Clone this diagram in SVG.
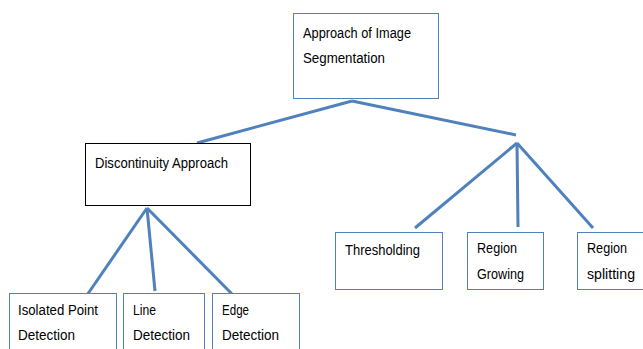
<svg xmlns="http://www.w3.org/2000/svg" width="643" height="349" viewBox="0 0 643 349">
<style>
.box{fill:#fff;stroke:#4f81bd;stroke-width:1}
.boxk{fill:#fff;stroke:#000;stroke-width:1}
.t{font-family:"Liberation Sans",Arial,sans-serif;font-size:14px;fill:#000}
.c{stroke:#4f81bd;stroke-width:3;fill:none;stroke-linecap:butt}
</style>
<rect width="643" height="349" fill="#fff"/>
<g id="connectors">
<line class="c" x1="352" y1="101" x2="197" y2="143"/>
<line class="c" x1="352" y1="101" x2="516" y2="135"/>
<line class="c" x1="147" y1="208" x2="85" y2="298"/>
<line class="c" x1="147" y1="208" x2="155" y2="291"/>
<line class="c" x1="147" y1="208" x2="233" y2="295"/>
<line class="c" x1="517" y1="143" x2="415" y2="228"/>
<line class="c" x1="517" y1="143" x2="518" y2="227"/>
<line class="c" x1="517" y1="143" x2="593" y2="228"/>
</g>
<g id="root">
<rect class="box" x="293.5" y="13.5" width="145" height="85"/>
<text class="t" x="303" y="38" textLength="108" lengthAdjust="spacingAndGlyphs">Approach of Image</text>
<text class="t" x="303" y="63" textLength="82" lengthAdjust="spacingAndGlyphs">Segmentation</text>
</g>
<g id="discontinuity">
<rect class="boxk" x="85.5" y="143.5" width="165" height="62"/>
<text class="t" x="95" y="168" textLength="133" lengthAdjust="spacingAndGlyphs">Discontinuity Approach</text>
</g>
<g id="isolated">
<rect class="box" x="9.5" y="293.5" width="107" height="60"/>
<text class="t" x="18" y="315" textLength="80" lengthAdjust="spacingAndGlyphs">Isolated Point</text>
<text class="t" x="18" y="340" textLength="57" lengthAdjust="spacingAndGlyphs">Detection</text>
</g>
<g id="line">
<rect class="box" x="123.5" y="293.5" width="81" height="60"/>
<text class="t" x="133" y="315" textLength="23" lengthAdjust="spacingAndGlyphs">Line</text>
<text class="t" x="133" y="340" textLength="57" lengthAdjust="spacingAndGlyphs">Detection</text>
</g>
<g id="edge">
<rect class="box" x="212.5" y="293.5" width="87" height="60"/>
<text class="t" x="222" y="315" textLength="27" lengthAdjust="spacingAndGlyphs">Edge</text>
<text class="t" x="222" y="340" textLength="57" lengthAdjust="spacingAndGlyphs">Detection</text>
</g>
<g id="thresholding">
<rect class="box" x="335.5" y="232.5" width="107" height="57"/>
<text class="t" x="345" y="255" textLength="75" lengthAdjust="spacingAndGlyphs">Thresholding</text>
</g>
<g id="growing">
<rect class="box" x="467.5" y="232.5" width="76" height="57"/>
<text class="t" x="477" y="253" textLength="40" lengthAdjust="spacingAndGlyphs">Region</text>
<text class="t" x="477" y="279" textLength="47" lengthAdjust="spacingAndGlyphs">Growing</text>
</g>
<g id="splitting">
<rect class="box" x="577.5" y="232.5" width="70" height="57"/>
<text class="t" x="587" y="253" textLength="40" lengthAdjust="spacingAndGlyphs">Region</text>
<text class="t" x="587" y="279" textLength="48" lengthAdjust="spacingAndGlyphs">splitting</text>
</g>
</svg>
